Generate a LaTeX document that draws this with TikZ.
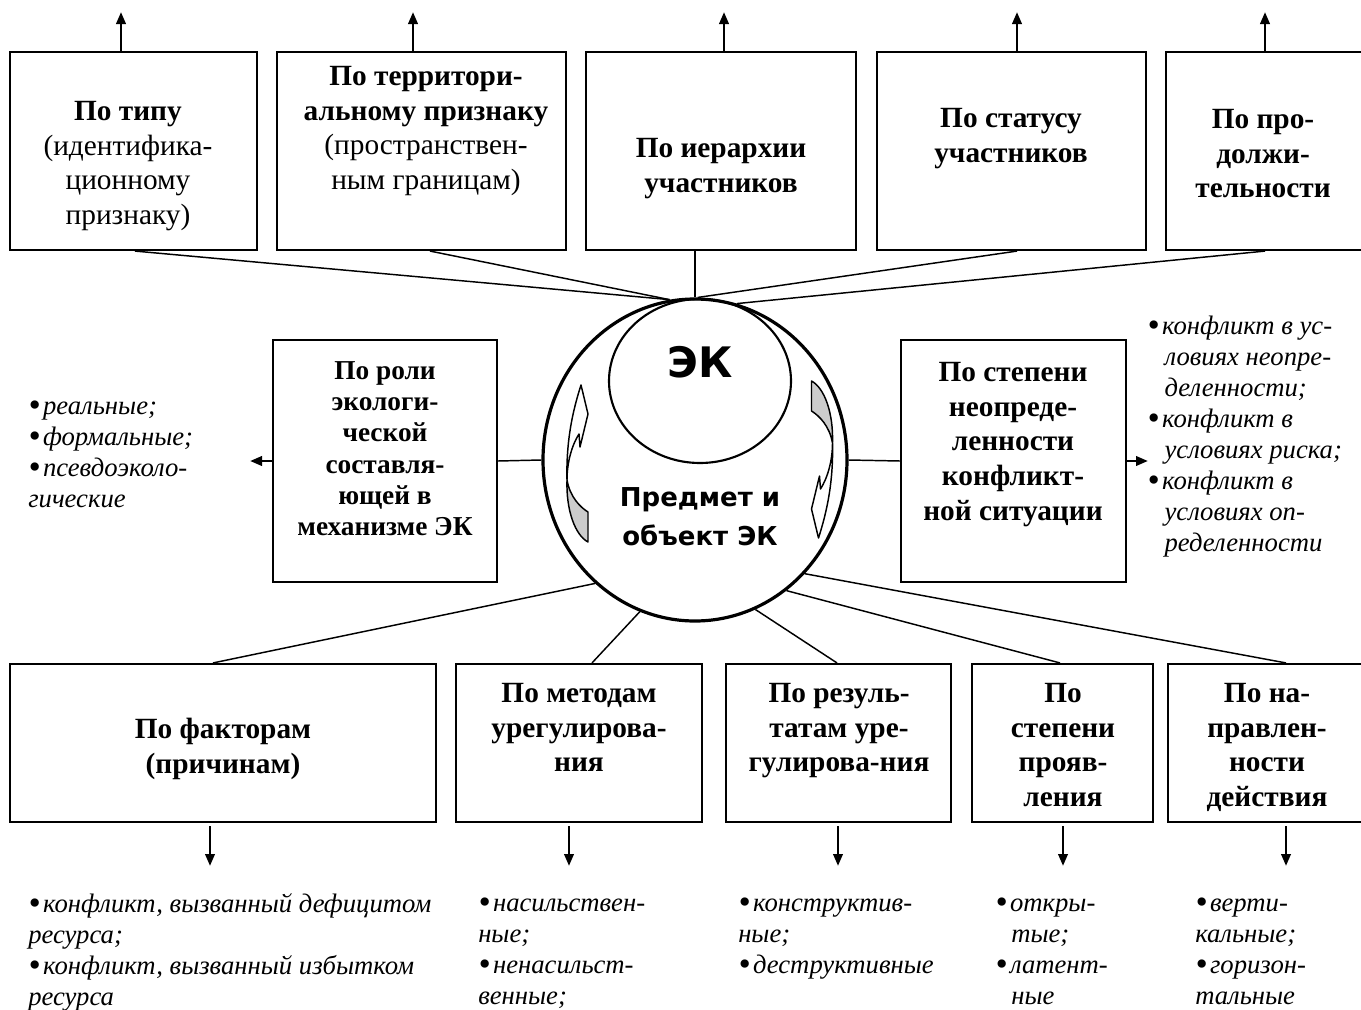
\documentclass[tikz,border=0pt]{standalone}
\usepackage{fontspec}
\setmainfont{Liberation Serif}
\newfontfamily\gothic{DejaVu Sans}
\usetikzlibrary{arrows.meta,shapes.geometric,fit}
\newcommand\bxf{\fontsize{22}{26}\selectfont\bfseries}
\newcommand\bxs{\fontsize{20.5}{23.5}\selectfont\bfseries}
\newcommand\rmf{\fontsize{22}{26}\selectfont\mdseries}
\newcommand\itf{\fontsize{20}{23.25}\selectfont\itshape}
\newcommand\bul{\raisebox{-0.07em}{\scalebox{1.3}{\textbullet}}\hspace{0.1em}}
\newcommand\fstrut{\vphantom{Фф}}
\newcommand\twistarrow{%
  \filldraw[fill=white, line width=1.1pt, line join=round]
    (581,385) -- (588,414) -- (580,447) -- (579,434)
    .. controls (572,445) and (567,462) .. (567,480)
    .. controls (566,440) and (573,410) .. (581,385) -- cycle;
  \filldraw[fill=black!20, line width=1.1pt, line join=round]
    (567,480) .. controls (570,497) and (580,507) .. (588,512)
    -- (588,542)
    .. controls (575,535) and (566,510) .. (567,480) -- cycle;
}
\begin{document}
\begin{tikzpicture}[x=0.75pt,y=-0.75pt,
  boxst/.style={draw, line width=1.6pt, inner sep=0pt},
  conn/.style={line width=1.1pt},
  arr/.style={line width=2pt, -{Triangle[length=9pt,width=7pt]}},
  bt/.style={font=\bxf, align=center, inner sep=0pt, anchor=north},
  rt/.style={font=\rmf, align=center, inner sep=0pt, anchor=north},
  lst/.style={font=\itf, align=left, inner sep=0pt, anchor=north west}]
\useasboundingbox (0,0) rectangle (1361,1010);
\clip (0,0) rectangle (1361,1010);
\fill[white] (0,0) rectangle (1361,1010);

% ---------- top boxes ----------
\node[boxst, fit={(10,52) (257,250)}] (b1) {};
\node[boxst, fit={(277,52) (566,250)}] (b2) {};
\node[boxst, fit={(586,52) (856,250)}] (b3) {};
\node[boxst, fit={(877,52) (1146,250)}] (b4) {};
\node[boxst, fit={(1166,52) (1366,250)}] (b5) {};

\node[rt] (t1) at (128,101) {\textbf{По типу}\\(идентифика-\\ционному\\признаку)};
\node[rt] (t2) at (426,66) {\textbf{По территори-}\\\textbf{альному признаку}\\(пространствен-\\ным границам)};
\node[bt] (t3) at (721,138) {По иерархии\\участников};
\node[bt] (t4) at (1011,108) {По статусу\\участников};
\node[bt] (t5) at (1263,109) {По про-\\должи-\\тельности};

% up arrows
\coordinate (u1) at (121,12);
\coordinate (u2) at (413,12);
\coordinate (u3) at (724,12);
\coordinate (u4) at (1017,12);
\coordinate (u5) at (1265,12);
\draw[arr] (b1.north -| u1) -- (u1);
\draw[arr] (b2.north -| u2) -- (u2);
\draw[arr] (b3.north -| u3) -- (u3);
\draw[arr] (b4.north -| u4) -- (u4);
\draw[arr] (b5.north -| u5) -- (u5);

% ---------- centre ----------
\node[draw, ellipse, line width=2.4pt, minimum width=228pt, minimum height=241.5pt, inner sep=0pt] (circ) at (695,460) {};
\node[draw, ellipse, line width=1.6pt, minimum width=136.5pt, minimum height=123pt, inner sep=0pt] (inner) at (700,381) {};
\node[font=\gothic\fontsize{31.5}{36}\selectfont\bfseries, inner sep=0pt] (ek) at (700,362) {ЭК};
\node[font=\gothic\fontsize{19.5}{29.25}\selectfont\bfseries, align=center, inner sep=0pt] (pred) at (700,517) {Предмет и\\объект ЭК};
\twistarrow
\begin{scope}[rotate around={180:(699.75,461.5)}]
\twistarrow
\end{scope}

% top connectors
\coordinate (k1) at (135,0);
\coordinate (k2) at (430,0);
\draw[conn] (b1.south -| k1) -- (circ.99.6);
\draw[conn] (b2.south -| k2) -- (circ.99.6);
\draw[conn] (b3.south -| circ.north) -- (circ.north);
\draw[conn] (b4.south -| u4) -- (circ.89.3);
\draw[conn] (b5.south -| u5) -- (circ.75);

% ---------- middle boxes ----------
\node[boxst, fit={(273,340) (497,582)}] (ml) {};
\node[boxst, fit={(901,340) (1126,582)}] (mr) {};
\node[font=\bxs, align=center, inner sep=0pt, anchor=north] (tml) at (385,361) {По роли\\экологи-\\ческой\\составля-\\ющей в\\механизме ЭК};
\node[bt] (tmr) at (1013,362) {По степени\\неопреде-\\ленности\\конфликт-\\ной ситуации};
\draw[conn] (ml.east) -- (circ.west);
\draw[conn] (circ.east) -- (mr.west);
\coordinate (la) at (250,461);
\coordinate (ra) at (1148,461);
\draw[arr] (ml.west) -- (la);
\draw[arr] (mr.east) -- (ra);

\node[lst] (ll) at (28,396) {\fstrut\bul реальные;\\\bul формальные;\\\bul псевдоэколо-\\гические};
\node[lst] (rl) at (1147,316) {\fstrut\bul конфликт в ус-\\\hspace*{0.65em}ловиях неопре-\\\hspace*{0.65em}деленности;\\\bul конфликт в\\\hspace*{0.65em}условиях риска;\\\bul конфликт в\\\hspace*{0.65em}условиях оп-\\\hspace*{0.65em}ределенности};

% ---------- bottom boxes ----------
\node[boxst, fit={(10,664) (436,822)}] (d1) {};
\node[boxst, fit={(456,664) (702,822)}] (d2) {};
\node[boxst, fit={(726,664) (951,822)}] (d3) {};
\node[boxst, fit={(972,664) (1153,822)}] (d4) {};
\node[boxst, fit={(1168,664) (1368,822)}] (d5) {};

\node[bt] (td1) at (223,718) {По факторам\\(причинам)};
\node[bt] (td2) at (579,683) {По методам\\урегулирова-\\ния};
\node[bt] (td3) at (839,683) {По резуль-\\татам уре-\\гулирова-ния};
\node[bt] (td4) at (1063,683) {По\\степени\\прояв-\\ления};
\node[bt] (td5) at (1267,683) {По на-\\правлен-\\ности\\действия};

\coordinate (j1) at (213,0);
\coordinate (j2) at (592,0);
\coordinate (j3) at (837,0);
\coordinate (j4) at (1060,0);
\coordinate (j5) at (1286,0);
\draw[conn] (d1.north -| j1) -- (circ.-129.9);
\draw[conn] (d2.north -| j2) -- (circ.-110.6);
\draw[conn] (d3.north -| j3) -- (circ.-68.8);
\draw[conn] (d4.north -| j4) -- (circ.-55.5);
\draw[conn] (d5.north -| j5) -- (circ.-46.9);

% down arrows
\coordinate (s1) at (210,826); \coordinate (e1) at (210,866);
\coordinate (s2) at (569,826); \coordinate (e2) at (569,866);
\coordinate (s3) at (838,826); \coordinate (e3) at (838,866);
\coordinate (s4) at (1063,826); \coordinate (e4) at (1063,866);
\coordinate (s5) at (1286,826); \coordinate (e5) at (1286,866);
\draw[arr] (s1) -- (e1);
\draw[arr] (s2) -- (e2);
\draw[arr] (s3) -- (e3);
\draw[arr] (s4) -- (e4);
\draw[arr] (s5) -- (e5);

\node[lst] (bl1) at (28,893) {\fstrut\bul конфликт, вызванный дефицитом\\ресурса;\\\bul конфликт, вызванный избытком\\ресурса};
\node[lst] (bl2) at (478,893) {\fstrut\bul насильствен-\\ные;\\\bul ненасильст-\\венные;};
\node[lst] (bl3) at (738,893) {\fstrut\bul конструктив-\\ные;\\\bul деструктивные};
\node[lst] (bl4) at (995,893) {\fstrut\bul откры-\\\hspace*{0.6em}тые;\\\bul латент-\\\hspace*{0.6em}ные};
\node[lst] (bl5) at (1195,893) {\fstrut\bul верти-\\кальные;\\\bul горизон-\\тальные};
\end{tikzpicture}
\end{document}
